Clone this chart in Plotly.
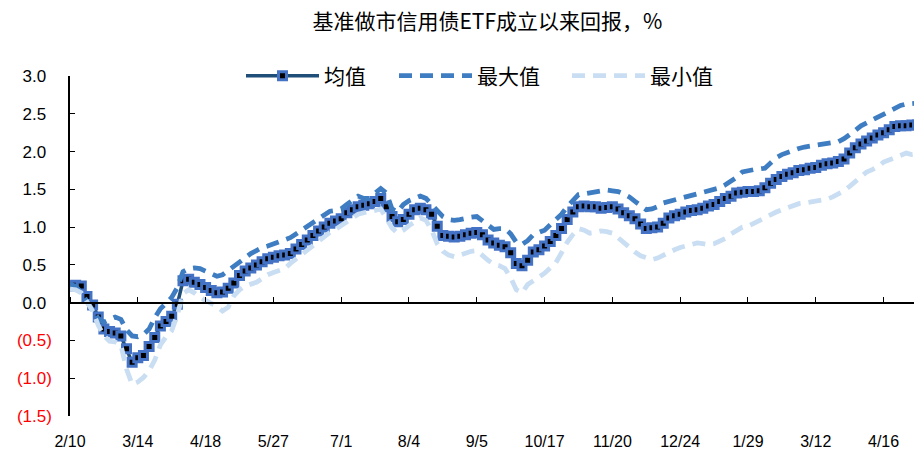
import plotly.graph_objects as go

# Colours
NAVY = "#1F4E79"
BLUE = "#4472C4"
MAX_BLUE = "#3E7DC1"
MIN_BLUE = "#C9DEF2"

TITLE = "基准做市信用债ETF成立以来回报，%"
CJK_FONT = "Noto Sans CJK SC"
LATIN_FONT = "Liberation Sans, Arial, sans-serif"

# x positions are sample indices (every other trading day); a date label every 12 samples
X_TICK_LABELS = ["2/10", "3/14", "4/18", "5/27", "7/1", "8/4", "9/5",
                 "10/17", "11/20", "12/24", "1/29", "3/12", "4/16"]
X_TICK_STEP = 12

Y_TICK_VALUES = [-1.5, -1.0, -0.5, 0.0, 0.5, 1.0, 1.5, 2.0, 2.5, 3.0]
Y_TICK_LABELS = ["(1.5)", "(1.0)", "(0.5)", "0.0", "0.5", "1.0", "1.5", "2.0", "2.5", "3.0"]

mean_vals = [
    0.22, 0.23, 0.22, 0.08, -0.03, -0.19, -0.35, -0.38, -0.40, -0.44,
    -0.61, -0.79, -0.73, -0.70, -0.58, -0.46, -0.31, -0.25, -0.18, -0.02,
    0.29, 0.31, 0.27, 0.24, 0.20, 0.16, 0.13, 0.14, 0.19, 0.26,
    0.36, 0.42, 0.46, 0.50, 0.54, 0.58, 0.60, 0.62, 0.63, 0.65,
    0.71, 0.77, 0.83, 0.89, 0.95, 1.00, 1.05, 1.08, 1.11, 1.19,
    1.23, 1.27, 1.29, 1.31, 1.34, 1.38, 1.27, 1.14, 1.07, 1.10,
    1.17, 1.23, 1.25, 1.23, 1.17, 1.01, 0.89, 0.88, 0.87, 0.88,
    0.90, 0.92, 0.93, 0.90, 0.83, 0.79, 0.76, 0.74, 0.66, 0.52,
    0.49, 0.56, 0.67, 0.70, 0.75, 0.81, 0.89, 0.98, 1.10, 1.20,
    1.27, 1.28, 1.27, 1.27, 1.25, 1.26, 1.27, 1.24, 1.19, 1.15,
    1.11, 1.04, 0.98, 0.99, 1.00, 1.05, 1.12, 1.15, 1.17, 1.20,
    1.22, 1.23, 1.25, 1.28, 1.30, 1.34, 1.38, 1.41, 1.45, 1.46,
    1.47, 1.47, 1.48, 1.52, 1.58, 1.63, 1.67, 1.70, 1.72, 1.75,
    1.76, 1.78, 1.79, 1.82, 1.84, 1.85, 1.87, 1.90, 1.98, 2.05,
    2.10, 2.14, 2.18, 2.22, 2.25, 2.29, 2.33, 2.34, 2.34, 2.35,
    2.35,
]

max_vals = [
    0.24, 0.22, 0.13, 0.02, -0.08, -0.21, -0.26, -0.22, -0.19, -0.22,
    -0.36, -0.44, -0.45, -0.42, -0.35, -0.20, -0.08, -0.01, 0.07, 0.20,
    0.41, 0.45, 0.46, 0.45, 0.42, 0.39, 0.35, 0.37, 0.43, 0.49,
    0.55, 0.61, 0.65, 0.69, 0.73, 0.75, 0.78, 0.81, 0.83, 0.86,
    0.91, 0.96, 1.01, 1.06, 1.11, 1.16, 1.21, 1.22, 1.24, 1.30,
    1.36, 1.41, 1.38, 1.38, 1.45, 1.51, 1.45, 1.24, 1.20, 1.30,
    1.35, 1.38, 1.41, 1.38, 1.30, 1.21, 1.14, 1.10, 1.09, 1.10,
    1.12, 1.13, 1.14, 1.08, 1.02, 0.97, 0.98, 0.98, 0.91, 0.80,
    0.77, 0.82, 0.90, 0.93, 0.96, 1.03, 1.10, 1.17, 1.27, 1.35,
    1.43, 1.44, 1.45, 1.46, 1.47, 1.49, 1.48, 1.47, 1.44, 1.40,
    1.34, 1.28, 1.23, 1.24, 1.27, 1.32, 1.34, 1.36, 1.38, 1.40,
    1.42, 1.44, 1.45, 1.47, 1.49, 1.52, 1.56, 1.61, 1.66, 1.73,
    1.75, 1.76, 1.77, 1.78, 1.85, 1.92, 1.96, 1.99, 2.02, 2.04,
    2.06, 2.07, 2.08, 2.09, 2.10, 2.11, 2.13, 2.17, 2.22, 2.28,
    2.34, 2.38, 2.42, 2.46, 2.49, 2.54, 2.58, 2.61, 2.63, 2.64,
    2.64,
]

min_vals = [
    0.18, 0.17, 0.13, 0.02, -0.11, -0.30, -0.44, -0.51, -0.52, -0.56,
    -0.88, -1.08, -1.05, -0.99, -0.90, -0.76, -0.56, -0.45, -0.37, -0.16,
    0.12, 0.17, 0.13, 0.07, 0.03, 0.00, -0.05, -0.11, -0.06, 0.09,
    0.17, 0.22, 0.24, 0.27, 0.32, 0.37, 0.40, 0.42, 0.45, 0.52,
    0.58, 0.63, 0.69, 0.75, 0.82, 0.88, 0.93, 0.97, 1.02, 1.07,
    1.13, 1.17, 1.19, 1.20, 1.22, 1.24, 1.12, 0.99, 0.92, 0.96,
    1.02, 1.08, 1.12, 1.09, 0.96, 0.78, 0.68, 0.63, 0.61, 0.63,
    0.66, 0.68, 0.69, 0.62, 0.56, 0.51, 0.49, 0.45, 0.33, 0.17,
    0.13, 0.24, 0.30, 0.34, 0.39, 0.45, 0.53, 0.66, 0.80, 0.90,
    0.98, 0.96, 0.92, 0.93, 0.95, 0.94, 0.92, 0.86, 0.79, 0.72,
    0.67, 0.62, 0.59, 0.57, 0.59, 0.63, 0.67, 0.70, 0.73, 0.75,
    0.77, 0.79, 0.78, 0.77, 0.78, 0.81, 0.85, 0.91, 0.96, 1.00,
    1.01, 1.05, 1.09, 1.12, 1.16, 1.20, 1.23, 1.26, 1.29, 1.31,
    1.32, 1.33, 1.34, 1.35, 1.37, 1.40, 1.44, 1.48, 1.54, 1.60,
    1.67, 1.73, 1.76, 1.80, 1.86, 1.89, 1.92, 1.95, 1.98, 1.96,
    1.97,
]

x_idx = list(range(len(mean_vals)))
tick_vals = [i * X_TICK_STEP for i in range(len(X_TICK_LABELS))]

# accounting style labels: red brackets for negatives, positives padded by an invisible ")"
y_tick_text = [
    f'<span style="color:#FF0000">{t}</span>' if v < 0
    else f'{t}<span style="color:rgba(0,0,0,0)">)</span>'
    for v, t in zip(Y_TICK_VALUES, Y_TICK_LABELS)
]

fig = go.Figure()

fig.add_trace(go.Scatter(
    x=x_idx, y=mean_vals, name="均值", mode="lines+markers", legend="legend",
    line=dict(color=NAVY, width=3.5),
    marker=dict(symbol="square", size=8, color="black",
                line=dict(color=BLUE, width=3)),
))
fig.add_trace(go.Scatter(
    x=x_idx, y=max_vals, name="最大值", mode="lines", legend="legend2",
    line=dict(color=MAX_BLUE, width=4.8, dash="13px,8px"),
))
fig.add_trace(go.Scatter(
    x=x_idx, y=min_vals, name="最小值", mode="lines", legend="legend3",
    line=dict(color=MIN_BLUE, width=4.8, dash="13px,8px"),
))
# carrier for the zero-crossing axis with the upward ticks
fig.add_trace(go.Scatter(x=[], y=[], xaxis="x2", showlegend=False, hoverinfo="skip"))

x_max = len(mean_vals) - 0.2

# the page sits 8px in from the window corner, so everything is placed 8px up/left
L, R, T, B = 62, 8, 68, 45
plot_w = 922 - L - R


def legend_box(px_left):
    return dict(
        x=(px_left - L) / plot_w, xanchor="left", y=1.0, yanchor="middle",
        orientation="h", bgcolor="rgba(0,0,0,0)", itemwidth=73,
        font=dict(family=CJK_FONT, size=21, color="black"),
    )


fig.update_layout(
    width=922, height=453,
    plot_bgcolor="white", paper_bgcolor="white",
    margin=dict(l=L, r=R, t=T, b=B),
    font=dict(family=LATIN_FONT, color="black", size=16),
    title=dict(text=TITLE, x=0.52, xanchor="center", y=1.0, yanchor="top",
               pad=dict(t=6), font=dict(family=CJK_FONT, size=21, color="black")),
    showlegend=True,
    legend=legend_box(233),
    legend2=legend_box(386),
    legend3=legend_box(559),
    xaxis=dict(
        range=[0, x_max], tickmode="array", tickvals=tick_vals, ticktext=X_TICK_LABELS,
        showline=False, showgrid=False, zeroline=False, ticks="",
        ticklabelstandoff=14, tickfont=dict(size=16), automargin=False,
    ),
    xaxis2=dict(
        overlaying="x", matches="x", anchor="free", position=1.5 / 4.5, side="top",
        tickmode="array", tickvals=tick_vals, showticklabels=False,
        showline=True, linecolor="black", linewidth=1.5,
        ticks="outside", ticklen=5, tickcolor="black", tickwidth=1.2,
        showgrid=False, zeroline=False, automargin=False,
    ),
    yaxis=dict(
        range=[-1.5, 3.0], tickmode="array", tickvals=Y_TICK_VALUES, ticktext=y_tick_text,
        showline=True, linecolor="black", linewidth=1.5,
        ticks="inside", ticklen=5, tickcolor="black", tickwidth=1.2,
        showgrid=False, zeroline=False, ticklabelstandoff=13,
        tickfont=dict(size=17), automargin=False,
    ),
)

fig.write_html("out.html")
